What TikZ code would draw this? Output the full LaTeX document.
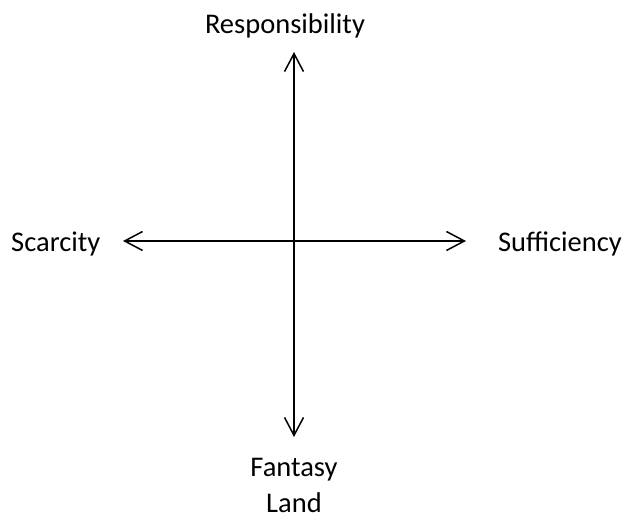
\documentclass[tikz,border=0pt]{standalone}
\usepackage{fontspec}
\setmainfont{Carlito}
\usetikzlibrary{arrows.meta}
\begin{document}
\begin{tikzpicture}[x=1pt,y=-1pt,
  lbl/.style={font=\fontsize{28.5}{36}\selectfont, inner sep=0pt, align=center},
  axis/.style={line width=1.5pt, {Straight Barb[length=18pt,width=19pt,line width=1.5pt]}-{Straight Barb[length=18pt,width=19pt,line width=1.5pt]}}]
\useasboundingbox (0,0) rectangle (626,518);
\coordinate (top) at (294,52);
\coordinate (bot) at (294,437);
\coordinate (lft) at (123,241);
\coordinate (rgt) at (466,241);
\draw[axis] (top) -- (bot);
\draw[axis] (lft) -- (rgt);
\node[lbl, anchor=base] (resp) at (285,34) {Responsibility};
\node[lbl, anchor=base west] (scar) at (11,252) {Scarcity};
\node[lbl, anchor=base east] (suff) at (622,252) {Sufficiency};
\node[lbl, anchor=base] (fant) at (294,512) {Fantasy\\Land};
\end{tikzpicture}
\end{document}
